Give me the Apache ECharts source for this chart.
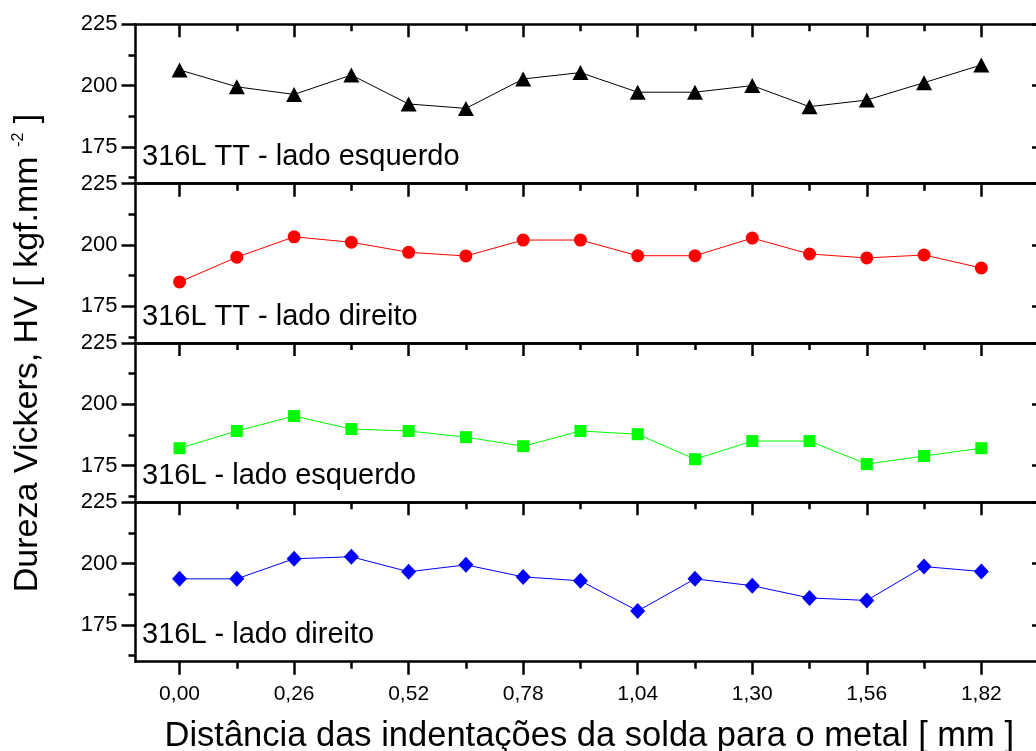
<!DOCTYPE html>
<html><head><meta charset="utf-8">
<script src="https://cdn.jsdelivr.net/npm/echarts@6/dist/echarts.min.js"></script>
<style>html,body{margin:0;padding:0;background:#fff}#c{width:1036px;height:751px}</style>
</head><body><div id="c"></div>
<script>
// ---- data ----
const distances = [0.00, 0.13, 0.26, 0.39, 0.52, 0.65, 0.78, 0.91, 1.04, 1.17, 1.30, 1.43, 1.56, 1.69, 1.82];
const ttEsquerdo = [206.4, 199.5, 196.4, 204.3, 192.5, 190.7, 202.7, 205.3, 197.3, 197.3, 200.0, 191.4, 194.1, 201.2, 208.4];
const ttDireito  = [184.9, 195.0, 203.3, 201.1, 197.0, 195.5, 202.0, 202.0, 195.6, 195.6, 202.8, 196.3, 194.7, 195.9, 190.6];
const esquerdo   = [182.1, 189.1, 195.2, 189.9, 189.1, 186.6, 182.9, 189.1, 187.8, 177.6, 185.0, 185.0, 175.6, 178.9, 182.1];
const direito    = [193.8, 193.8, 202.0, 202.8, 196.7, 199.5, 194.6, 193.0, 180.7, 193.8, 191.0, 186.0, 185.0, 198.8, 196.8];
const panelLabels = ['316L TT - lado esquerdo', '316L TT - lado direito', '316L - lado esquerdo', '316L - lado direito'];
const xMajorTicks = [0.00, 0.26, 0.52, 0.78, 1.04, 1.30, 1.56, 1.82];
const xMinorTicks = [0.13, 0.39, 0.65, 0.91, 1.17, 1.43, 1.69];
const yMajorTicks = [175, 200, 225];
const yMinorTicks = [162.5, 187.5, 212.5];
const xTitle = 'Distância das indentações da solda para o metal [ mm ]';
const yTitleMain = 'Dureza Vickers, HV [ kgf.mm';
const yTitleSup = '-2';
const yTitleEnd = ']';

// ---- styles / layout ----
const FONT = '"Liberation Sans", Arial, sans-serif';
const panelValues = [ttEsquerdo, ttDireito, esquerdo, direito];
const panelStyles = [
  {color: '#000000', symbol: 'triangle', size: [16, 15]},
  {color: '#ff0000', symbol: 'circle', size: 13},
  {color: '#00ff00', symbol: 'rect', size: 12},
  {color: '#0000ff', symbol: 'diamond', size: [15, 16]}
];
const GL = 135.5, GW = 907.5, GT = 24.3, GH = 159.35;
const XMIN = -0.1, XMAX = 1.96, YMIN = 160, YMAX = 225;
const LINE = {show: true, onZero: false, lineStyle: {color: '#000', width: 2.5}};
const NOLINE = {show: false, onZero: false};
const fmtX = v => Number(v).toFixed(2).replace('.', ',');

const grids = [], xAxes = [], yAxes = [], series = [], graphics = [];
for (let i = 0; i < 4; i++) {
  const top = GT + i * GH;
  const isLast = i === 3;
  grids.push({left: GL, top: top, width: GW, height: GH, containLabel: false, outerBoundsMode: 'none'});
  const base = {gridIndex: i, type: 'value', min: XMIN, max: XMAX, splitLine: {show: false}};
  const xi = xAxes.length;
  xAxes.push(Object.assign({}, base, {
    position: 'bottom', axisLine: LINE,
    axisTick: {show: isLast, inside: false, length: 13, customValues: xMajorTicks, lineStyle: {color: '#000', width: 2.5}},
    axisLabel: {show: isLast, customValues: xMajorTicks, formatter: fmtX, margin: 22, color: '#000', fontSize: 21, fontFamily: FONT},
    name: isLast ? xTitle : '', nameLocation: 'middle', nameGap: 57,
    nameTextStyle: {color: '#000', fontSize: 34.5, fontFamily: FONT}
  }));
  if (isLast) {
    xAxes.push(Object.assign({}, base, {
      position: 'bottom', axisLine: NOLINE,
      axisTick: {show: true, inside: false, length: 7, customValues: xMinorTicks, lineStyle: {color: '#000', width: 2.5}},
      axisLabel: {show: false}
    }));
  }
  xAxes.push(Object.assign({}, base, {
    position: 'top', axisLine: LINE,
    axisTick: {show: true, inside: true, length: 13, customValues: xMajorTicks, lineStyle: {color: '#000', width: 2.5}},
    axisLabel: {show: false}
  }));
  xAxes.push(Object.assign({}, base, {
    position: 'top', axisLine: NOLINE,
    axisTick: {show: true, inside: true, length: 7, customValues: xMinorTicks, lineStyle: {color: '#000', width: 2.5}},
    axisLabel: {show: false}
  }));

  const ybase = {gridIndex: i, type: 'value', min: YMIN, max: YMAX, splitLine: {show: false}};
  const yi = yAxes.length;
  yAxes.push(Object.assign({}, ybase, {
    position: 'left', axisLine: LINE,
    axisTick: {show: true, inside: false, length: 14, customValues: yMajorTicks, lineStyle: {color: '#000', width: 2.5}},
    axisLabel: {show: true, customValues: yMajorTicks, margin: 18, color: '#000', fontSize: 22, fontFamily: FONT}
  }));
  yAxes.push(Object.assign({}, ybase, {
    position: 'left', axisLine: NOLINE,
    axisTick: {show: true, inside: false, length: 7, customValues: yMinorTicks, lineStyle: {color: '#000', width: 2.5}},
    axisLabel: {show: false}
  }));
  yAxes.push(Object.assign({}, ybase, {
    position: 'right', axisLine: LINE,
    axisTick: {show: true, inside: true, length: 11, customValues: yMajorTicks, lineStyle: {color: '#000', width: 2.5}},
    axisLabel: {show: false}
  }));
  yAxes.push(Object.assign({}, ybase, {
    position: 'right', axisLine: NOLINE,
    axisTick: {show: true, inside: true, length: 5, customValues: yMinorTicks, lineStyle: {color: '#000', width: 2.5}},
    axisLabel: {show: false}
  }));

  const st = panelStyles[i];
  series.push({
    type: 'line', xAxisIndex: xi, yAxisIndex: yi,
    data: distances.map((d, k) => [d, panelValues[i][k]]),
    symbol: st.symbol, symbolSize: st.size, showSymbol: true,
    lineStyle: {color: st.color, width: 1}, itemStyle: {color: st.color},
    animation: false, z: 3
  });

  graphics.push({
    type: 'text', x: 142, y: top + 133,
    style: {text: panelLabels[i], fill: '#000', fontSize: 29, fontFamily: FONT, align: 'left', verticalAlign: 'middle'}
  });
}

graphics.push({
  type: 'text', x: 28, y: 353, rotation: Math.PI / 2,
  style: {
    text: '{a|' + yTitleMain + ' }{s|' + yTitleSup + '}{a| ' + yTitleEnd + '}',
    align: 'center', verticalAlign: 'middle',
    rich: {
      a: {fontSize: 34, fontFamily: FONT, fill: '#000'},
      s: {fontSize: 16, fontFamily: FONT, fill: '#000', verticalAlign: 'top'}
    }
  }
});

const chart = echarts.init(document.getElementById('c'), null, {renderer: 'canvas'});
chart.setOption({
  animation: false,
  backgroundColor: '#fff',
  grid: grids, xAxis: xAxes, yAxis: yAxes, series: series,
  graphic: graphics
});
</script></body></html>
